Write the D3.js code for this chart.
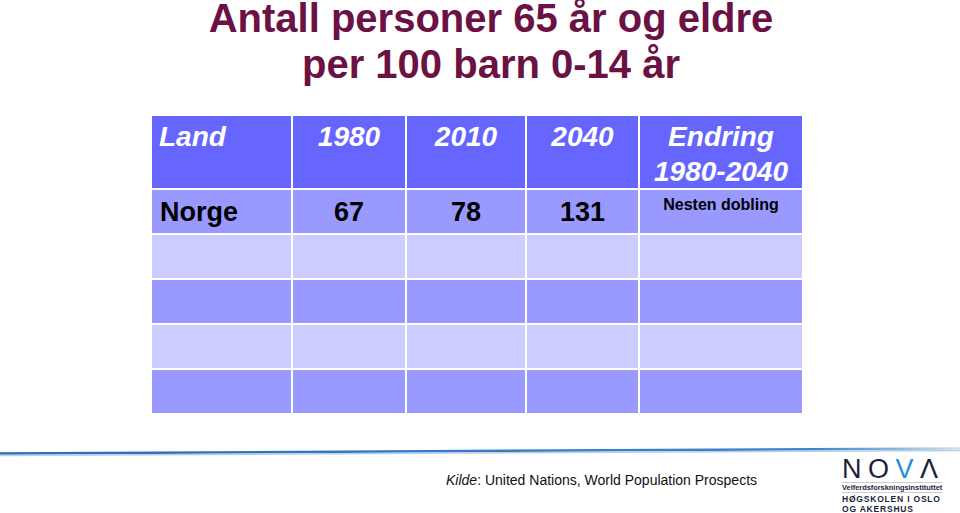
<!DOCTYPE html>
<html>
<head>
<meta charset="utf-8">
<script src="https://cdn.jsdelivr.net/npm/d3@7"></script>
<style>
  body { margin: 0; background: #fff; }
  svg { display: block; font-family: Arial, "Liberation Sans", sans-serif; }
</style>
</head>
<body>
<div id="chart"></div>
<script>
// table content
var titleLines = ["Antall personer 65 år og eldre", "per 100 barn 0-14 år"];
var headers = ["Land", "1980", "2010", "2040", "Endring|1980-2040"];
var land = ["Norge", "", "", "", ""];
var v1980 = [67, null, null, null, null];
var v2010 = [78, null, null, null, null];
var v2040 = [131, null, null, null, null];
var endring = ["Nesten dobling", "", "", "", ""];
var source = ["Kilde", ": United Nations, World Population Prospects"];

var width = 960,
    height = 513;

var svg = d3.select("#chart").append("svg")
    .attr("width", width)
    .attr("height", height);

// title
svg.selectAll(".title")
    .data(titleLines)
    .enter().append("text")
    .attr("class", "title")
    .attr("x", 491)
    .attr("y", function(d, i) { return 32 + i * 46; })
    .attr("text-anchor", "middle")
    .style("font-size", "40px")
    .style("font-weight", "bold")
    .style("fill", "#6b1143")
    .text(function(d) { return d; });

// columns: widths are layout, edges from cumsum
var colWidths = [141, 114, 120, 113, 164];
var left = 151;
var edges = [left].concat(Array.from(d3.cumsum(colWidths), function(c) { return left + c; }));

var headTop = 115, headBottom = 189, bodyBottom = 414;

var rows = land.map(function(d, i) {
    return [land[i], v1980[i], v2010[i], v2040[i], endring[i]];
});

var y = d3.scaleBand()
    .domain(d3.range(rows.length))
    .range([headBottom, bodyBottom]);

var rowColor = ["#9999ff", "#ccccff", "#9999ff", "#ccccff", "#9999ff"];

// header cells
svg.selectAll(".hcell")
    .data(headers)
    .enter().append("rect")
    .attr("class", "hcell")
    .attr("x", function(d, i) { return edges[i]; })
    .attr("y", headTop)
    .attr("width", function(d, i) { return edges[i + 1] - edges[i]; })
    .attr("height", headBottom - headTop)
    .style("fill", "#6666ff")
    .style("stroke", "#fff")
    .style("stroke-width", 2);

// body cells
var rowG = svg.selectAll(".row")
    .data(rows)
    .enter().append("g")
    .attr("class", "row");

rowG.selectAll("rect")
    .data(function(d, r) { return d.map(function(v) { return {v: v, r: r}; }); })
    .enter().append("rect")
    .attr("x", function(d, i) { return edges[i]; })
    .attr("y", function(d) { return y(d.r); })
    .attr("width", function(d, i) { return edges[i + 1] - edges[i]; })
    .attr("height", y.bandwidth())
    .style("fill", function(d) { return rowColor[d.r]; })
    .style("stroke", "#fff")
    .style("stroke-width", 2);

svg.append("rect")
    .attr("x", edges[0]).attr("y", headTop)
    .attr("width", edges[5] - edges[0]).attr("height", bodyBottom - headTop)
    .style("fill", "none").style("stroke", "#fff").style("stroke-width", 2);

// header text
svg.selectAll(".htext")
    .data(headers)
    .enter().append("text")
    .attr("class", "htext")
    .attr("x", function(d, i) { return i === 0 ? edges[0] + 8 : (edges[i] + edges[i + 1]) / 2; })
    .attr("y", 146)
    .attr("text-anchor", function(d, i) { return i === 0 ? "start" : "middle"; })
    .style("font-size", "28px")
    .style("font-style", "italic")
    .style("font-weight", "bold")
    .style("fill", "#fff")
    .each(function(d) {
        var parts = d.split("|");
        var t = d3.select(this);
        parts.forEach(function(p, k) {
            t.append("tspan")
                .attr("x", t.attr("x"))
                .attr("dy", k === 0 ? 0 : 35)
                .text(p);
        });
    });

// body text
rowG.selectAll("text")
    .data(function(d, r) { return d.map(function(v) { return {v: v, r: r}; }); })
    .enter().append("text")
    .filter(function(d) { return d.v !== null && d.v !== ""; })
    .attr("x", function(d, i) { return i === 0 ? edges[0] + 9 : (edges[i] + edges[i + 1]) / 2; })
    .attr("y", function(d, i) { return i === 4 ? y(d.r) + 21 : y(d.r) + 32; })
    .attr("text-anchor", function(d, i) { return i === 0 ? "start" : "middle"; })
    .style("font-size", function(d, i) { return i === 4 ? "16px" : "27px"; })
    .style("font-weight", "bold")
    .style("fill", "#000")
    .text(function(d) { return d.v; });

// separator line
var lineGrad = svg.append("defs").append("linearGradient")
    .attr("id", "sep").attr("x1", "0%").attr("x2", "100%");
lineGrad.append("stop").attr("offset", "0%").attr("stop-color", "#2a6fb5");
lineGrad.append("stop").attr("offset", "85%").attr("stop-color", "#3d86c9");
lineGrad.append("stop").attr("offset", "100%").attr("stop-color", "#cfe0f0");

svg.append("path")
    .attr("d", "M0,453.5 L960,448.5")
    .style("stroke", "url(#sep)")
    .style("stroke-width", 2.5)
    .style("fill", "none");
svg.append("path")
    .attr("d", "M0,455.5 L960,450.5")
    .style("stroke", "#b8cfe6")
    .style("stroke-width", 1.5)
    .style("fill", "none");

// source
var src = svg.append("text")
    .attr("x", 446)
    .attr("y", 485)
    .style("font-size", "14px")
    .style("fill", "#111");
src.append("tspan").style("font-style", "italic").text(source[0]);
src.append("tspan").text(source[1]);

// NOVA logo
var logo = svg.append("g").attr("transform", "translate(842,0)");
var nova = logo.append("text")
    .attr("x", 0)
    .attr("y", 478)
    .style("font-size", "27px")
    .style("letter-spacing", "6.5px")
    .style("fill", "#1b1f3b");
nova.append("tspan").text("NO");
nova.append("tspan").style("fill", "#1f8fd6").text("V");
nova.append("tspan").text("\u039B");

logo.append("line")
    .attr("x1", 0).attr("x2", 100)
    .attr("y1", 482.5).attr("y2", 482.5)
    .style("stroke", "#c9ccd6").style("stroke-width", 1);
logo.append("text")
    .attr("x", 0).attr("y", 490)
    .style("font-size", "7.4px")
    .style("font-weight", "bold")
    .style("fill", "#1b1f3b")
    .text("Velferdsforskningsinstituttet");
logo.append("line")
    .attr("x1", 0).attr("x2", 100)
    .attr("y1", 492.5).attr("y2", 492.5)
    .style("stroke", "#c9ccd6").style("stroke-width", 1);
logo.selectAll(".hio")
    .data(["HØGSKOLEN I OSLO", "OG AKERSHUS"])
    .enter().append("text")
    .attr("class", "hio")
    .attr("x", 0)
    .attr("y", function(d, i) { return 502 + i * 9.5; })
    .style("font-size", "8.5px")
    .style("font-weight", "bold")
    .style("letter-spacing", "0.8px")
    .style("fill", "#1b1f3b")
    .text(function(d) { return d; });
</script>
</body>
</html>
